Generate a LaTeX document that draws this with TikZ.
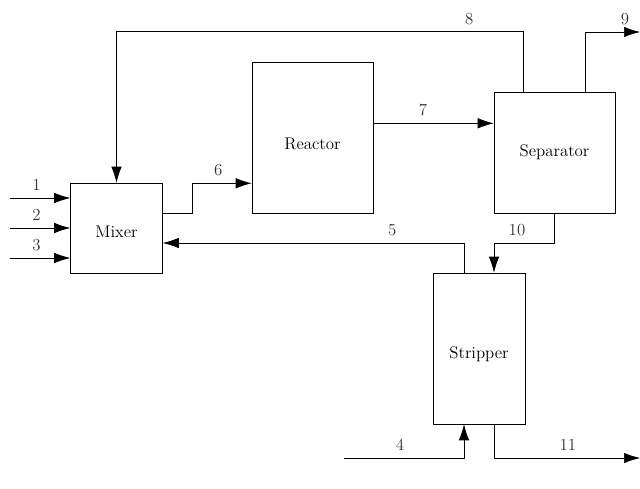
\documentclass[tikz,border=0pt]{standalone}
\usetikzlibrary{arrows.meta,positioning,calc}
\tikzset{
  unitbox/.style={draw, align=center, inner sep=2pt, font=\large, text depth=0pt},
  stream/.style={-{Latex[length=4mm,width=2.6mm]}, line width=0.45pt},
  lbl/.style={above, inner sep=1pt, yshift=4pt, font=\large, text=black!80}
}
\begin{document}
\begin{tikzpicture}
\useasboundingbox (0,0) rectangle (16,12.2);
\node[unitbox, minimum width=23mm, minimum height=22.5mm, text height=12.8pt] (mixer) at (2.9125,6.5) {Mixer};
\node[unitbox, minimum width=30.25mm, minimum height=37.75mm, text height=16.4pt] (reactor) at (7.8125,8.7625) {Reactor};
\node[unitbox, minimum width=30.25mm, minimum height=30.25mm, text height=6.4pt] (separator) at (13.8625,8.3875) {Separator};
\node[unitbox, minimum width=23mm, minimum height=37.75mm, text height=13.6pt] (stripper) at (11.975,3.4875) {Stripper};
% free ends
\coordinate (in1) at (0.25,7.25);
\coordinate (in2) at (0.25,6.5);
\coordinate (in3) at (0.25,5.75);
\coordinate (in4) at (8.6,0.75);
\coordinate (out9) at (16,11.4);
\coordinate (out11) at (16,0.75);
% feeds
\draw[stream] (in1) -- node[lbl, pos=0.44] {1} (mixer.west |- in1);
\draw[stream] (in2) -- node[lbl, pos=0.44] {2} (mixer.west);
\draw[stream] (in3) -- node[lbl, pos=0.44] {3} (mixer.west |- in3);
% mixer to reactor
\draw[stream] ($(mixer.east)+(0,0.375)$) -- ++(0.75,0) |- node[lbl, pos=0.717] {6} ($(reactor.south west)+(0,0.75)$);
% reactor to separator
\draw[stream] ($(reactor.south east)+(0,2.25)$) -- node[lbl, pos=0.413] {7} ($(separator.south west)+(0,2.25)$);
% recycle
\draw[stream] ($(separator.north west)+(0.75,0)$) -- ++(0,1.5) -| node[lbl, pos=0.067] {8} (mixer.north);
\draw[stream] ($(separator.north east)+(-0.75,0)$) |- node[lbl, pos=0.864] {9} (out9);
\draw[stream] (separator.south) -- ++(0,-0.75) -| node[lbl, pos=0.31] {10} ($(stripper.north)+(0.375,0)$);
\draw[stream] ($(stripper.north)+(-0.375,0)$) |- node[lbl, pos=0.619] {5} ($(mixer.east)+(0,-0.375)$);
% stripper
\draw[stream] (in4) -| node[lbl, pos=0.233] {4} ($(stripper.south)+(-0.375,0)$);
\draw[stream] ($(stripper.south)+(0.375,0)$) |- node[lbl, pos=0.753] {11} (out11);
\end{tikzpicture}
\end{document}
